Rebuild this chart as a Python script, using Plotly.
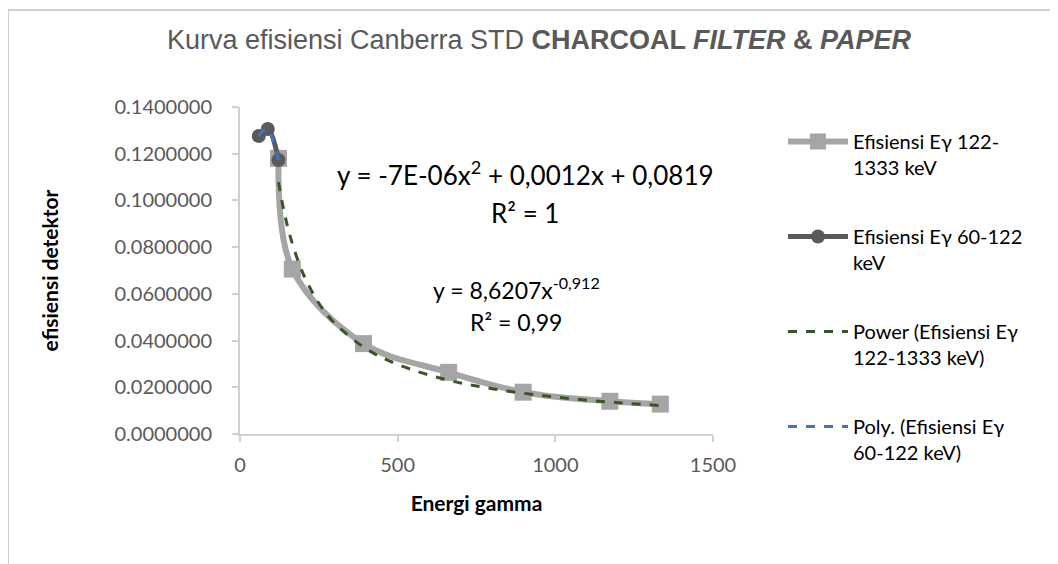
import plotly.graph_objects as go

# Efisiensi detektor vs energi gamma (keV)
energi_122_1333 = [122, 165.9, 391.7, 661.7, 898, 1173, 1333]
efisiensi_122_1333 = [0.1180, 0.0706, 0.0387, 0.0264, 0.0179, 0.0140, 0.0128]

energi_60_122 = [59.5, 88, 122]
efisiensi_60_122 = [0.1276, 0.1306, 0.1173]

# trendlines
power_x = [122, 140, 160, 200, 250, 300, 400, 500, 650, 800, 1000, 1200, 1333]
power_y = [0.1078, 0.0951, 0.0842, 0.0687, 0.0560, 0.0475, 0.0365, 0.0298,
           0.0234, 0.0194, 0.0158, 0.0134, 0.0122]

poly_x = [59.5, 75, 88, 105, 122]
poly_y = [0.1276, 0.1300, 0.1306, 0.1255, 0.1173]

x_ticks = [0, 500, 1000, 1500]
y_ticks = [0, 0.02, 0.04, 0.06, 0.08, 0.10, 0.12, 0.14]

names = ["Efisiensi Eγ 122-<br>1333 keV",
         "Efisiensi Eγ 60-122<br>keV",
         "Power (Efisiensi Eγ<br>122-1333 keV)",
         "Poly. (Efisiensi Eγ<br>60-122 keV)"]

# page sits 8px in from the window corner
OFF = 8
L, T, PW, PH = 240 - OFF, 107 - OFF, 473, 327
W, H = 1058, 564


def px(x):
    return (x - OFF - L) / PW


def py(y):
    return (T + PH - (y - OFF)) / PH


fig = go.Figure()

fig.add_trace(go.Scatter(
    x=energi_122_1333, y=efisiensi_122_1333, name=names[0], legendgroup="a",
    mode="lines+markers", line=dict(color="#A5A5A5", width=6, shape="spline"),
    marker=dict(symbol="square", size=17, color="#A5A5A5")))

fig.add_trace(go.Scatter(
    x=energi_60_122, y=efisiensi_60_122, name=names[1], legendgroup="b",
    mode="lines+markers", line=dict(color="#5A5A5A", width=5, shape="spline"),
    marker=dict(symbol="circle", size=14, color="#5A5A5A")))

fig.add_trace(go.Scatter(
    x=power_x, y=power_y, name=names[2], legendgroup="c",
    mode="lines", line=dict(color="#375623", width=3, dash="dash", shape="spline")))

fig.add_trace(go.Scatter(
    x=poly_x, y=poly_y, name=names[3], legendgroup="d",
    mode="lines", line=dict(color="#4472C4", width=3, dash="dash", shape="spline")))

axis_font = dict(family="Lato, Liberation Sans", size=20, color="#595959")
title_font = dict(family="Lato, Liberation Sans", size=21, color="black")

fig.update_xaxes(
    range=[0, 1500], tickvals=x_ticks, tickfont=axis_font, ticklabelstandoff=6,
    showline=True, linecolor="#D0D0D0", linewidth=2,
    ticks="outside", ticklen=6, tickcolor="#D0D0D0", tickwidth=2,
    showgrid=False, zeroline=False,
    title=dict(text="<b>Energi gamma</b>", standoff=21, font=title_font))

fig.update_yaxes(
    range=[0, 0.14], tickvals=y_ticks, tickformat=".7f", tickfont=axis_font,
    ticklabelstandoff=16,
    showline=True, linecolor="#D0D0D0", linewidth=2,
    ticks="outside", ticklen=6, tickcolor="#D0D0D0", tickwidth=2,
    showgrid=False, zeroline=False,
    title=dict(text="<b>efisiensi detektor</b>", standoff=50, font=title_font))

eq_font = dict(family="Lato, Liberation Sans", color="black")
eqs = [
    ("y = -7E-06x<sup>2</sup> + 0,0012x + 0,0819", 525, 173, 26),
    ("R² = 1", 525, 213, 26),
    ("y = 8,6207x<sup>-0,912</sup>", 516, 288, 23),
    ("R² = 0,99", 516, 322, 23),
]
for text, ex, ey, size in eqs:
    fig.add_annotation(xref="paper", yref="paper", x=px(ex), y=py(ey),
                       xanchor="center", yanchor="middle", text=text,
                       showarrow=False, font=dict(size=size, **eq_font))

# chart area border
fig.add_shape(type="line", xref="paper", yref="paper",
              x0=px(8), x1=px(1100), y0=py(10), y1=py(10),
              line=dict(color="#A0A0A0", width=1))
fig.add_shape(type="line", xref="paper", yref="paper",
              x0=px(8), x1=px(8), y0=py(10), y1=py(600),
              line=dict(color="#A0A0A0", width=1))

fig.update_layout(
    width=W, height=H,
    margin=dict(l=L, r=W - L - PW, t=T, b=H - T - PH),
    plot_bgcolor="white", paper_bgcolor="white",
    title=dict(
        text="Kurva efisiensi Canberra STD <b>CHARCOAL <i>FILTER</i> & <i>PAPER</i></b>",
        x=(539 - OFF) / W, xanchor="center", xref="container",
        y=1 - (40 - OFF) / H, yanchor="middle",
        font=dict(family="Liberation Sans", size=27, color="#595959")),
    legend=dict(
        x=px(783), xanchor="left", y=py(122), yanchor="top",
        valign="top", tracegroupgap=40, itemwidth=60, maxheight=600,
        font=dict(family="Lato, Liberation Sans", size=20, color="black"),
        bgcolor="rgba(0,0,0,0)"),
)

fig.write_html("out.html")
